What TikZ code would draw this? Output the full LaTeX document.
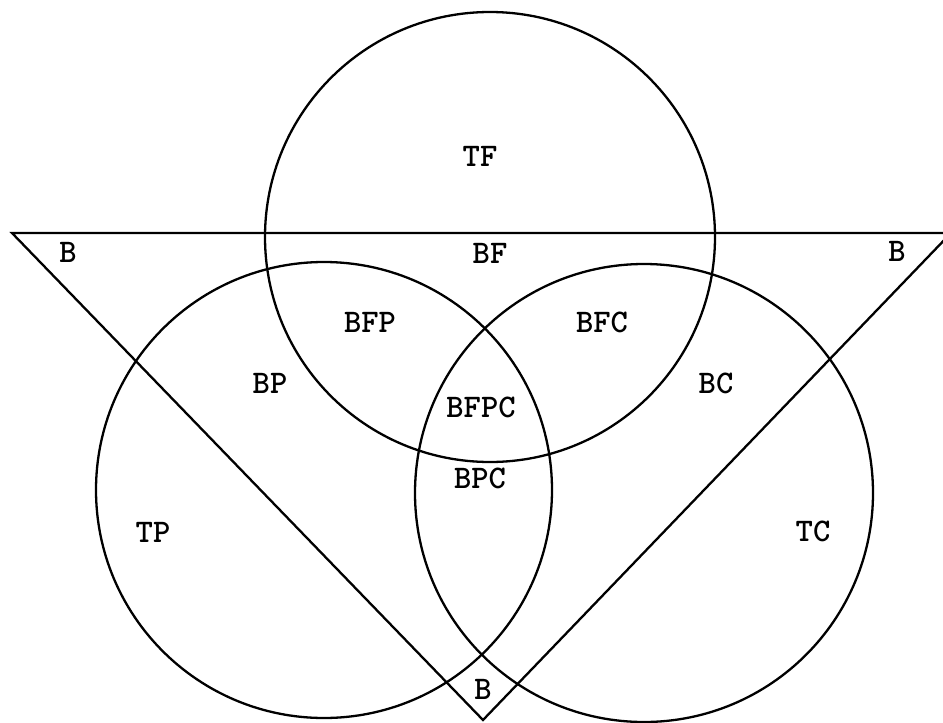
\documentclass[tikz,border=0pt]{standalone}
\begin{document}
\begin{tikzpicture}[x=1pt,y=-1pt,
  shape line/.style={draw=black,line width=2.3pt},
  lbl/.style={font=\ttfamily\bfseries\fontsize{33}{36}\selectfont,inner sep=0pt}]
\useasboundingbox (0,0) rectangle (943,723);
\clip (0,0) rectangle (943,723);
% circles
\draw[shape line] (490,237) circle[radius=225];
\draw[shape line] (324,490) circle[radius=228];
\draw[shape line] (644,493) circle[radius=229];
% triangle
\coordinate (tl) at (12,233);
\coordinate (tr) at (951,233);
\coordinate (bt) at (483,720);
\draw[shape line,line join=miter] (tl) -- (tr) -- (bt) -- cycle;
% labels
\node[lbl] (tf) at (480,156) {TF};
\node[lbl] (bl) at (68,252) {B};
\node[lbl] (bf) at (490,253) {BF};
\node[lbl] (br) at (897,251) {B};
\node[lbl] (bfp) at (370,322) {BFP};
\node[lbl] (bfc) at (602,322) {BFC};
\node[lbl] (bfpc) at (481,407) {BFPC};
\node[lbl] (bp) at (270,383) {BP};
\node[lbl] (bc) at (716,383) {BC};
\node[lbl] (bpc) at (480,478) {BPC};
\node[lbl] (tp) at (153,532) {TP};
\node[lbl] (tc) at (813,531) {TC};
\node[lbl] (bb) at (483,689) {B};
\end{tikzpicture}
\end{document}
